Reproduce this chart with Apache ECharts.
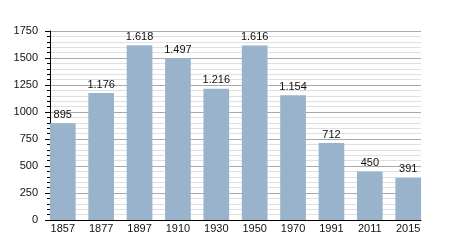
<!DOCTYPE html>
<html><head><meta charset="utf-8">
<script src="https://cdn.jsdelivr.net/npm/echarts@6/dist/echarts.min.js"></script>
<style>html,body{margin:0;padding:0;background:#fff}#c{width:450px;height:250px}</style>
</head><body><div id="c"></div>
<script>
var years = ['1857','1877','1897','1910','1930','1950','1970','1991','2011','2015'];
var population = [895,1176,1618,1497,1216,1616,1154,712,450,391];
var yTicks = [0,250,500,750,1000,1250,1500,1750];

function fmt(v){ return String(v).replace(/\B(?=(\d{3})+(?!\d))/g,'.'); }
var FONT = 'Liberation Sans, Arial';
var yMin = yTicks[0], yMax = yTicks[yTicks.length-1];
var halfGap = 6.4;

var chart = echarts.init(document.getElementById('c'), null, {renderer:'canvas'});
chart.setOption({
  animation:false,
  grid:[
    {left:50,right:29,top:31,bottom:30},
    {left:50-halfGap,right:29-halfGap,top:31,bottom:30}
  ],
  xAxis:[
    {gridIndex:0,type:'value',min:0,max:1,
      axisLine:{show:true,onZero:false,lineStyle:{color:'#000',width:1}},
      axisTick:{show:false},axisLabel:{show:false},splitLine:{show:false}},
    {gridIndex:1,type:'category',data:years,
      axisLine:{show:false},axisTick:{show:false},
      axisLabel:{color:'#111',fontSize:11,fontFamily:FONT,margin:3}}
  ],
  yAxis:[
    {gridIndex:0,type:'value',min:yMin,max:yMax,interval:250,
      axisLine:{show:true,lineStyle:{color:'#000',width:1}},
      axisTick:{show:true,length:5,lineStyle:{color:'#000'}},
      minorTick:{show:true,splitNumber:5,length:3,lineStyle:{color:'#000'}},
      splitLine:{show:true,lineStyle:{color:'#aaa',width:1}},
      minorSplitLine:{show:true,lineStyle:{color:'#e0e0e0',width:1}},
      axisLabel:{color:'#111',fontSize:11,fontFamily:FONT,margin:12,
        formatter:function(v){return String(v);}}},
    {gridIndex:1,type:'value',min:yMin,max:yMax,show:false,splitLine:{show:false}}
  ],
  series:[{
    type:'bar', xAxisIndex:1, yAxisIndex:1, data:population, barCategoryGap:'33%',
    itemStyle:{color:'#99b3cd'},
    label:{show:true,position:'top',distance:3,color:'#111',fontSize:11,
      fontFamily:FONT,formatter:function(p){return fmt(p.value);}}
  }]
});
</script></body></html>
